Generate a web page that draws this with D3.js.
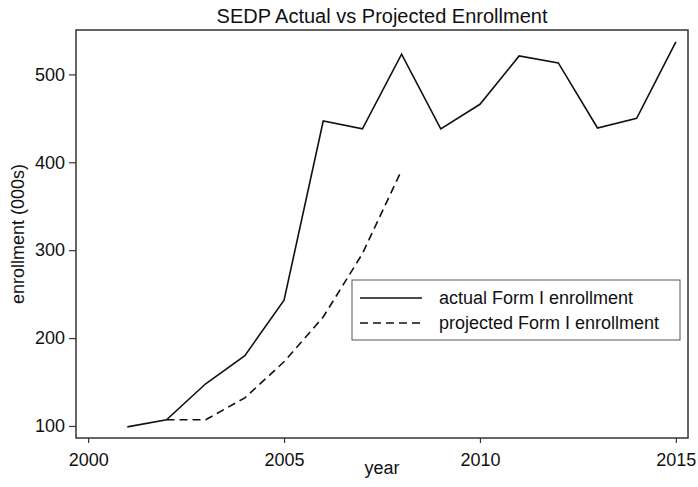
<!DOCTYPE html>
<html>
<head>
<meta charset="utf-8">
<script src="https://cdn.jsdelivr.net/npm/d3@7"></script>
<style>
  body { margin: 0; background: #fff; }
  svg text { font-family: "Liberation Sans", Arial, Helvetica, sans-serif; fill: #111; }
</style>
</head>
<body>
<svg id="chart" width="698" height="487"></svg>
<script>
// data
const years = [2001, 2002, 2003, 2004, 2005, 2006, 2007, 2008, 2009, 2010, 2011, 2012, 2013, 2014, 2015];
const actual = [99, 107, 148, 180, 243, 447, 438, 523, 438, 466, 521, 513, 439, 450, 537];
const projYears = [2002, 2003, 2004, 2005, 2006, 2007, 2008];
const projected = [107, 107, 132, 173, 224, 296, 391];
const xTicks = [2000, 2005, 2010, 2015];
const yTicks = [100, 200, 300, 400, 500];
const legendLabels = ["actual Form I enrollment", "projected Form I enrollment"];

const svg = d3.select("#chart");
const frame = { left: 76, right: 688, top: 30, bottom: 438 };

const x = d3.scaleLinear().domain([1999.69, 2015.31]).range([frame.left, frame.right]);
const y = d3.scaleLinear().domain([86.3, 550.5]).range([frame.bottom, frame.top]);

// title
svg.append("text")
  .attr("x", (frame.left + frame.right) / 2)
  .attr("y", 23)
  .attr("text-anchor", "middle")
  .style("font-size", "20px")
  .text("SEDP Actual vs Projected Enrollment");

// axes
const xAxis = svg.append("g")
  .attr("transform", `translate(0,${frame.bottom})`)
  .call(d3.axisBottom(x).tickValues(xTicks).tickFormat(d3.format("d")).tickSize(5).tickPadding(10));
const yAxis = svg.append("g")
  .attr("transform", `translate(${frame.left},0)`)
  .call(d3.axisLeft(y).tickValues(yTicks).tickSize(7).tickPadding(4));

[xAxis, yAxis].forEach((g) => {
  g.select(".domain").remove();
  g.selectAll("line").attr("stroke", "#333").attr("stroke-width", 1.2);
  g.selectAll("text").style("font-size", "18px").attr("fill", "#111");
});

// plot region frame
svg.append("rect")
  .attr("x", frame.left)
  .attr("y", frame.top)
  .attr("width", frame.right - frame.left)
  .attr("height", frame.bottom - frame.top)
  .attr("fill", "none")
  .attr("stroke", "#333")
  .attr("stroke-width", 1.5);

// axis titles
svg.append("text")
  .attr("x", (frame.left + frame.right) / 2)
  .attr("y", 474)
  .attr("text-anchor", "middle")
  .style("font-size", "18px")
  .text("year");
svg.append("text")
  .attr("transform", `translate(24,${(frame.top + frame.bottom) / 2}) rotate(-90)`)
  .attr("text-anchor", "middle")
  .style("font-size", "18px")
  .text("enrollment (000s)");

// lines
const line = d3.line().x((d) => x(d[0])).y((d) => y(d[1]));

svg.append("path")
  .datum(d3.zip(years, actual))
  .attr("d", line)
  .attr("fill", "none")
  .attr("stroke", "#111")
  .attr("stroke-width", 1.6);

svg.append("path")
  .datum(d3.zip(projYears, projected))
  .attr("d", line)
  .attr("fill", "none")
  .attr("stroke", "#111")
  .attr("stroke-width", 1.6)
  .attr("stroke-dasharray", "8,5");

// legend
const legend = svg.append("g");
legend.append("rect")
  .attr("x", 352)
  .attr("y", 280)
  .attr("width", 328)
  .attr("height", 60)
  .attr("fill", "#fff")
  .attr("stroke", "#555")
  .attr("stroke-width", 1);

legendLabels.forEach((label, i) => {
  const ly = 298 + i * 25;
  legend.append("line")
    .attr("x1", 360).attr("x2", 422)
    .attr("y1", ly).attr("y2", ly)
    .attr("stroke", "#111")
    .attr("stroke-width", 1.6)
    .attr("stroke-dasharray", i === 1 ? "8,5" : null);
  legend.append("text")
    .attr("x", 439)
    .attr("y", ly)
    .attr("dy", "0.35em")
    .style("font-size", "18px")
    .text(label);
});
</script>
</body>
</html>
